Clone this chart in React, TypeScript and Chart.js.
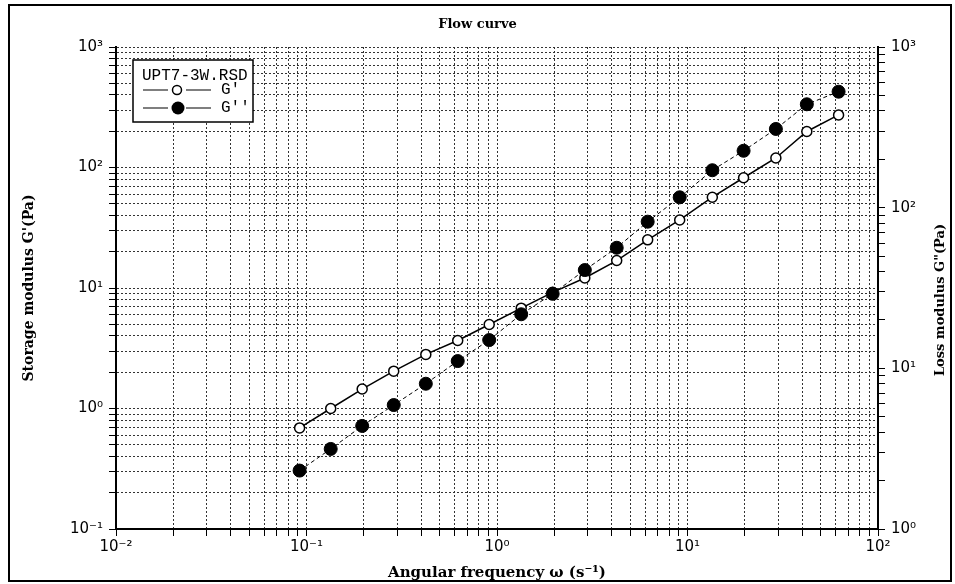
import React, { useEffect, useRef } from "react";
import { Chart, registerables } from "chart.js";
Chart.register(...registerables);

// Angular frequency (s^-1)
const FREQ = [0.092, 0.134, 0.196, 0.287, 0.423, 0.622, 0.91, 1.34, 1.96, 2.89, 4.25, 6.18, 9.1, 13.5, 19.7, 29.1, 42.3, 62.1];
// Storage modulus G' (Pa) – left axis
const G_STORAGE = [0.69, 1.0, 1.45, 2.04, 2.81, 3.67, 4.98, 6.8, 9.2, 12.1, 16.9, 25.1, 36.7, 56.7, 82.2, 120, 199, 273];
// Loss modulus G'' (Pa) – right axis
const G_LOSS = [2.31, 3.15, 4.38, 5.91, 8.02, 11.1, 15.0, 21.7, 29.1, 40.9, 56.3, 81.8, 116, 171, 226, 309, 440, 527];

const X_DECADES = [0.01, 0.1, 1, 10, 100];
const Y_LEFT_DECADES = [0.1, 1, 10, 100, 1000];
const Y_RIGHT_DECADES = [1, 10, 100, 1000];
const MINOR_STEPS = [2, 3, 4, 5, 6, 7, 8, 9];

const TITLE = "Flow curve";
const X_TITLE = "Angular frequency \u03c9 (s\u207b\u00b9)";
const Y_LEFT_TITLE = "Storage modulus G'(Pa)";
const Y_RIGHT_TITLE = 'Loss modulus G"(Pa)';
const LEGEND_TITLE = "UPT7-3W.RSD";
const SERIES_NAMES = ["G'", "G''"];

const SUP: Record<string, string> = {
  "-": "\u207b", "0": "\u2070", "1": "\u00b9", "2": "\u00b2", "3": "\u00b3",
  "4": "\u2074", "5": "\u2075", "6": "\u2076", "7": "\u2077", "8": "\u2078", "9": "\u2079",
};

function logTicks(decades: number[]) {
  const out: { value: number }[] = [];
  decades.forEach((d, i) => {
    out.push({ value: d });
    if (i < decades.length - 1) MINOR_STEPS.forEach((m) => out.push({ value: d * m }));
  });
  return out;
}

function powLabel(v: number) {
  const l = Math.log10(v);
  const e = Math.round(l);
  if (Math.abs(l - e) > 1e-6) return "";
  return "10" + String(e).split("").map((c) => SUP[c]).join("");
}

const TICK_FONT = { family: "'DejaVu Sans', sans-serif", size: 15 };
const GRID_DASH = [2, 2];

const decor = {
  id: "decor",
  beforeDraw(chart: any) {
    const ctx = chart.ctx;
    ctx.save();
    ctx.fillStyle = "#fff";
    ctx.fillRect(0, 0, chart.width, chart.height);
    ctx.restore();
  },
  afterDraw(chart: any) {
    const ctx = chart.ctx;
    ctx.save();
    // outer frame
    ctx.strokeStyle = "#000";
    ctx.lineWidth = 2;
    ctx.strokeRect(9, 5, 942, 576);

    // right axis title (reads bottom to top)
    const area = chart.chartArea;
    ctx.save();
    ctx.translate(941, (area.top + area.bottom) / 2 + 12);
    ctx.rotate(-Math.PI / 2);
    ctx.font = "bold 13px 'DejaVu Serif', serif";
    ctx.fillStyle = "#000";
    ctx.textAlign = "center";
    ctx.textBaseline = "middle";
    ctx.fillText(Y_RIGHT_TITLE, 0, 0);
    ctx.restore();

    // legend box
    const lx = 133, ly = 60, lw = 120, lh = 62;
    ctx.fillStyle = "#fff";
    ctx.fillRect(lx, ly, lw, lh);
    ctx.lineWidth = 1.5;
    ctx.strokeStyle = "#000";
    ctx.strokeRect(lx, ly, lw, lh);
    ctx.fillStyle = "#000";
    ctx.font = "16px 'Liberation Mono', monospace";
    ctx.textBaseline = "middle";
    ctx.textAlign = "left";
    ctx.fillText(LEGEND_TITLE, lx + 9, ly + 16);
    const rows = [ly + 30, ly + 48];
    rows.forEach((ry, i) => {
      ctx.lineWidth = 1.2;
      ctx.beginPath();
      ctx.moveTo(lx + 10, ry);
      ctx.lineTo(lx + 35, ry);
      ctx.moveTo(lx + 53, ry);
      ctx.lineTo(lx + 78, ry);
      ctx.stroke();
      ctx.beginPath();
      if (i === 0) {
        ctx.arc(lx + 44, ry, 4.5, 0, Math.PI * 2);
        ctx.fillStyle = "#fff";
        ctx.fill();
        ctx.lineWidth = 1.5;
        ctx.stroke();
      } else {
        ctx.arc(lx + 45, ry, 6.5, 0, Math.PI * 2);
        ctx.fillStyle = "#000";
        ctx.fill();
      }
      ctx.fillStyle = "#000";
      ctx.fillText(SERIES_NAMES[i], lx + 88, ry);
    });
    ctx.restore();
  },
};

function gridOpts() {
  return {
    color: "#333",
    lineWidth: 1,
    drawTicks: true,
    tickLength: 7,
    tickColor: "#000",
    tickWidth: 1,
  };
}

export default function App() {
  const ref = useRef<HTMLCanvasElement | null>(null);
  useEffect(() => {
    if (!ref.current) return;
    const chart = new Chart(ref.current, {
      type: "scatter",
      data: {
        datasets: [
          {
            label: SERIES_NAMES[1],
            data: FREQ.map((x, i) => ({ x, y: G_LOSS[i] })),
            yAxisID: "y1",
            showLine: true,
            borderColor: "#000",
            borderWidth: 1,
            borderDash: [4, 3],
            backgroundColor: "#000",
            pointRadius: 6.5,
            pointBackgroundColor: "#000",
            pointBorderColor: "#000",
            pointBorderWidth: 1,
            order: 0,
          },
          {
            label: SERIES_NAMES[0],
            data: FREQ.map((x, i) => ({ x, y: G_STORAGE[i] })),
            yAxisID: "y",
            showLine: true,
            borderColor: "#000",
            borderWidth: 1.5,
            backgroundColor: "#fff",
            pointRadius: 5,
            pointBackgroundColor: "#fff",
            pointBorderColor: "#000",
            pointBorderWidth: 1.5,
            order: 1,
          },
        ],
      },
      options: {
        animation: false,
        responsive: false,
        maintainAspectRatio: false,
        layout: { padding: 0 },
        plugins: {
          legend: { display: false },
          tooltip: { enabled: false },
          title: {
            display: true,
            text: TITLE,
            color: "#000",
            font: { family: "'DejaVu Serif', serif", size: 13, weight: "bold" },
            padding: { top: 17, bottom: 14.4 },
          },
        },
        scales: {
          x: {
            type: "logarithmic",
            min: 0.01,
            max: 100,
            position: "bottom",
            afterBuildTicks: (s: any) => { s.ticks = logTicks(X_DECADES); },
            afterFit: (s: any) => { s.height = 55; },
            ticks: {
              autoSkip: false,
              maxRotation: 0,
              minRotation: 0,
              padding: 2,
              color: "#000",
              font: TICK_FONT,
              callback: (v: any) => powLabel(Number(v)),
            },
            grid: gridOpts(),
            border: { display: true, color: "#000", width: 2, dash: GRID_DASH },
            title: {
              display: true,
              text: X_TITLE,
              color: "#000",
              font: { family: "'DejaVu Serif', serif", size: 15, weight: "bold" },
              padding: { top: 0, bottom: 2 },
            },
          },
          y: {
            type: "logarithmic",
            min: 0.1,
            max: 1000,
            position: "left",
            afterBuildTicks: (s: any) => { s.ticks = logTicks(Y_LEFT_DECADES); },
            afterFit: (s: any) => { s.width = 116; },
            ticks: {
              autoSkip: false,
              padding: 6,
              color: "#000",
              font: TICK_FONT,
              callback: (v: any) => powLabel(Number(v)),
            },
            grid: gridOpts(),
            border: { display: true, color: "#000", width: 2, dash: GRID_DASH },
            title: {
              display: true,
              text: Y_LEFT_TITLE,
              color: "#000",
              font: { family: "'DejaVu Serif', serif", size: 14, weight: "bold" },
              padding: { top: 21, bottom: 0 },
            },
          },
          y1: {
            type: "logarithmic",
            min: 1,
            max: 1000,
            position: "right",
            afterBuildTicks: (s: any) => { s.ticks = logTicks(Y_RIGHT_DECADES); },
            afterFit: (s: any) => { s.width = 77; },
            ticks: {
              autoSkip: false,
              padding: 6,
              color: "#000",
              font: TICK_FONT,
              callback: (v: any) => powLabel(Number(v)),
            },
            grid: {
              drawOnChartArea: false,
              drawTicks: true,
              tickLength: 7,
              tickColor: "#000",
              tickWidth: 1,
            },
            border: { display: true, color: "#000", width: 2 },
          },
        },
      },
      plugins: [decor],
    } as any);
    return () => chart.destroy();
  }, []);
  return (
    <div style={{ position: "fixed", left: 0, top: 0, width: 955, height: 584, background: "#fff" }}>
      <canvas ref={ref} width={955} height={584} style={{ width: 955, height: 584, display: "block" }} />
    </div>
  );
}
